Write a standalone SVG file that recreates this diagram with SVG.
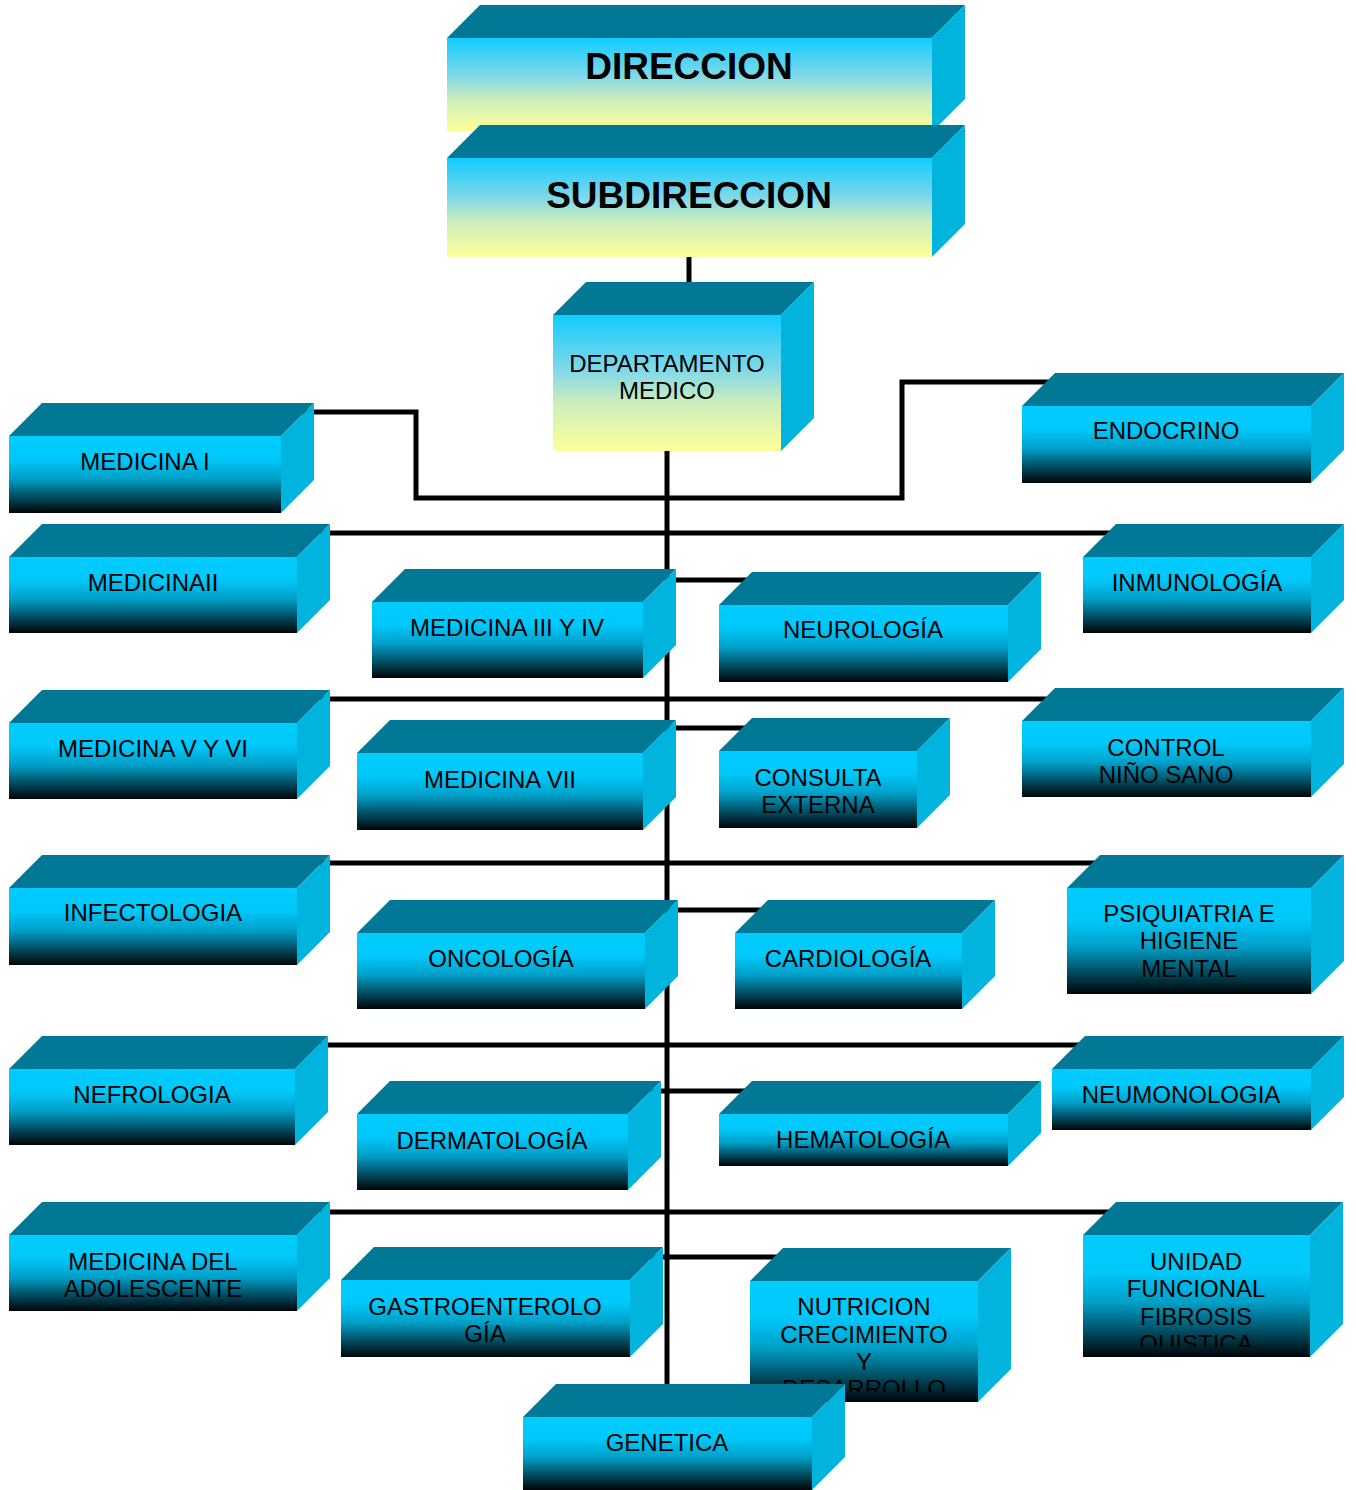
<svg xmlns="http://www.w3.org/2000/svg" width="1356" height="1490" viewBox="0 0 1356 1490">
<defs>
<linearGradient id="gBlue" x1="0" y1="0" x2="0" y2="1">
<stop offset="0" stop-color="#00ccff"/>
<stop offset="0.3" stop-color="#00c8fa"/>
<stop offset="0.55" stop-color="#00a0c8"/>
<stop offset="0.8" stop-color="#004a5e"/>
<stop offset="1" stop-color="#000507"/>
</linearGradient>
<linearGradient id="gYel" x1="0" y1="0" x2="0" y2="1">
<stop offset="0" stop-color="#10ccff"/>
<stop offset="0.4" stop-color="#80d8e8"/>
<stop offset="0.65" stop-color="#cdeebc"/>
<stop offset="1" stop-color="#ffff99"/>
</linearGradient>
<clipPath id="clipUnidad"><rect x="1083" y="1235" width="227" height="112"/></clipPath>
<clipPath id="clipNutri"><rect x="750" y="1281" width="228" height="111"/></clipPath>
</defs>
<style>
.top{fill:#007896}
.side{fill:#00b4de}
.fb{fill:url(#gBlue)}
.fy{fill:url(#gYel)}
.conn{fill:none;stroke:#000;stroke-width:5;stroke-linejoin:miter}
text{font-family:"Liberation Sans",Arial,sans-serif;font-size:24px;fill:#000;text-anchor:middle}
.big{font-size:37px;font-weight:bold}
</style>
<rect width="1356" height="1490" fill="#fff"/>
<g id="connectors">
<path class="conn" d="M689 250V292"/>
<path class="conn" d="M667 445V1392"/>
<path class="conn" d="M300 412H416V498H902V382H1060"/>
<path class="conn" d="M320 533H1120"/>
<path class="conn" d="M667 580H760"/>
<path class="conn" d="M320 699H1060"/>
<path class="conn" d="M667 728H760"/>
<path class="conn" d="M320 863H1110"/>
<path class="conn" d="M667 910H775"/>
<path class="conn" d="M320 1045H1090"/>
<path class="conn" d="M650 1091H760"/>
<path class="conn" d="M320 1212H1120"/>
<path class="conn" d="M650 1257H790"/>
</g>
<g id="direccion">
<polygon class="top" points="447,38 480,5 965,5 932,38"/>
<polygon class="side" points="932,38 965,5 965,99 932,132"/>
<rect class="fy" x="447" y="38" width="485" height="94"/>
<text class="big" x="689" y="79">DIRECCION</text>
</g>
<g id="subdireccion">
<polygon class="top" points="447,158 480,125 965,125 932,158"/>
<polygon class="side" points="932,158 965,125 965,224 932,257"/>
<rect class="fy" x="447" y="158" width="485" height="99"/>
<text class="big" x="689" y="208">SUBDIRECCION</text>
</g>
<g id="departamento">
<polygon class="top" points="553,315 586,282 814,282 781,315"/>
<polygon class="side" points="781,315 814,282 814,418 781,451"/>
<rect class="fy" x="553" y="315" width="228" height="136"/>
<text x="667" y="372">DEPARTAMENTO</text>
<text x="667" y="399">MEDICO</text>
</g>
<g id="medicina1">
<polygon class="top" points="9,436 42,403 314,403 281,436"/>
<polygon class="side" points="281,436 314,403 314,480 281,513"/>
<rect class="fb" x="9" y="436" width="272" height="77"/>
<text x="145" y="470">MEDICINA I</text>
</g>
<g id="medicina2">
<polygon class="top" points="9,557 42,524 330,524 297,557"/>
<polygon class="side" points="297,557 330,524 330,600 297,633"/>
<rect class="fb" x="9" y="557" width="288" height="76"/>
<text x="153" y="591">MEDICINAII</text>
</g>
<g id="medicina3y4">
<polygon class="top" points="372,602 405,569 676,569 643,602"/>
<polygon class="side" points="643,602 676,569 676,645 643,678"/>
<rect class="fb" x="372" y="602" width="271" height="76"/>
<text x="507" y="636">MEDICINA III Y IV</text>
</g>
<g id="neurologia">
<polygon class="top" points="719,605 752,572 1041,572 1008,605"/>
<polygon class="side" points="1008,605 1041,572 1041,649 1008,682"/>
<rect class="fb" x="719" y="605" width="289" height="77"/>
<text x="863" y="638">NEUROLOGÍA</text>
</g>
<g id="endocrino">
<polygon class="top" points="1022,406 1055,373 1344,373 1311,406"/>
<polygon class="side" points="1311,406 1344,373 1344,450 1311,483"/>
<rect class="fb" x="1022" y="406" width="289" height="77"/>
<text x="1166" y="439">ENDOCRINO</text>
</g>
<g id="inmunologia">
<polygon class="top" points="1083,557 1116,524 1344,524 1311,557"/>
<polygon class="side" points="1311,557 1344,524 1344,600 1311,633"/>
<rect class="fb" x="1083" y="557" width="228" height="76"/>
<text x="1197" y="591">INMUNOLOGÍA</text>
</g>
<g id="medicina5y6">
<polygon class="top" points="9,723 42,690 330,690 297,723"/>
<polygon class="side" points="297,723 330,690 330,766 297,799"/>
<rect class="fb" x="9" y="723" width="288" height="76"/>
<text x="153" y="757">MEDICINA V Y VI</text>
</g>
<g id="medicina7">
<polygon class="top" points="357,753 390,720 676,720 643,753"/>
<polygon class="side" points="643,753 676,720 676,797 643,830"/>
<rect class="fb" x="357" y="753" width="286" height="77"/>
<text x="500" y="788">MEDICINA VII</text>
</g>
<g id="consulta">
<polygon class="top" points="719,751 752,718 950,718 917,751"/>
<polygon class="side" points="917,751 950,718 950,795 917,828"/>
<rect class="fb" x="719" y="751" width="198" height="77"/>
<text x="818" y="786">CONSULTA</text>
<text x="818" y="813">EXTERNA</text>
</g>
<g id="control">
<polygon class="top" points="1022,721 1055,688 1344,688 1311,721"/>
<polygon class="side" points="1311,721 1344,688 1344,764 1311,797"/>
<rect class="fb" x="1022" y="721" width="289" height="76"/>
<text x="1166" y="756">CONTROL</text>
<text x="1166" y="783">NIÑO SANO</text>
</g>
<g id="infectologia">
<polygon class="top" points="9,888 42,855 330,855 297,888"/>
<polygon class="side" points="297,888 330,855 330,932 297,965"/>
<rect class="fb" x="9" y="888" width="288" height="77"/>
<text x="153" y="921">INFECTOLOGIA</text>
</g>
<g id="oncologia">
<polygon class="top" points="357,933 390,900 678,900 645,933"/>
<polygon class="side" points="645,933 678,900 678,976 645,1009"/>
<rect class="fb" x="357" y="933" width="288" height="76"/>
<text x="501" y="967">ONCOLOGÍA</text>
</g>
<g id="cardiologia">
<polygon class="top" points="735,933 768,900 995,900 962,933"/>
<polygon class="side" points="962,933 995,900 995,976 962,1009"/>
<rect class="fb" x="735" y="933" width="227" height="76"/>
<text x="848" y="967">CARDIOLOGÍA</text>
</g>
<g id="psiquiatria">
<polygon class="top" points="1067,888 1100,855 1344,855 1311,888"/>
<polygon class="side" points="1311,888 1344,855 1344,961 1311,994"/>
<rect class="fb" x="1067" y="888" width="244" height="106"/>
<text x="1189" y="922">PSIQUIATRIA E</text>
<text x="1189" y="949">HIGIENE</text>
<text x="1189" y="977">MENTAL</text>
</g>
<g id="nefrologia">
<polygon class="top" points="9,1069 42,1036 328,1036 295,1069"/>
<polygon class="side" points="295,1069 328,1036 328,1112 295,1145"/>
<rect class="fb" x="9" y="1069" width="286" height="76"/>
<text x="152" y="1103">NEFROLOGIA</text>
</g>
<g id="dermatologia">
<polygon class="top" points="357,1114 390,1081 661,1081 628,1114"/>
<polygon class="side" points="628,1114 661,1081 661,1157 628,1190"/>
<rect class="fb" x="357" y="1114" width="271" height="76"/>
<text x="492" y="1149">DERMATOLOGÍA</text>
</g>
<g id="hematologia">
<polygon class="top" points="719,1114 752,1081 1041,1081 1008,1114"/>
<polygon class="side" points="1008,1114 1041,1081 1041,1133 1008,1166"/>
<rect class="fb" x="719" y="1114" width="289" height="52"/>
<text x="863" y="1148">HEMATOLOGÍA</text>
</g>
<g id="neumonologia">
<polygon class="top" points="1052,1069 1085,1036 1344,1036 1311,1069"/>
<polygon class="side" points="1311,1069 1344,1036 1344,1097 1311,1130"/>
<rect class="fb" x="1052" y="1069" width="259" height="61"/>
<text x="1181" y="1103">NEUMONOLOGIA</text>
</g>
<g id="adolescente">
<polygon class="top" points="9,1235 42,1202 330,1202 297,1235"/>
<polygon class="side" points="297,1235 330,1202 330,1278 297,1311"/>
<rect class="fb" x="9" y="1235" width="288" height="76"/>
<text x="153" y="1270">MEDICINA DEL</text>
<text x="153" y="1297">ADOLESCENTE</text>
</g>
<g id="gastroenterologia">
<polygon class="top" points="341,1280 374,1247 663,1247 630,1280"/>
<polygon class="side" points="630,1280 663,1247 663,1324 630,1357"/>
<rect class="fb" x="341" y="1280" width="289" height="77"/>
<text x="485" y="1315">GASTROENTEROLO</text>
<text x="485" y="1342">GÍA</text>
</g>
<g id="nutricion">
<polygon class="top" points="750,1281 783,1248 1011,1248 978,1281"/>
<polygon class="side" points="978,1281 1011,1248 1011,1369 978,1402"/>
<rect class="fb" x="750" y="1281" width="228" height="121"/>
<g clip-path="url(#clipNutri)">
<text x="864" y="1315">NUTRICION</text>
<text x="864" y="1343">CRECIMIENTO</text>
<text x="864" y="1370">Y</text>
<text x="864" y="1397">DESARROLLO</text>
</g>
</g>
<g id="unidad">
<polygon class="top" points="1083,1235 1116,1202 1343,1202 1310,1235"/>
<polygon class="side" points="1310,1235 1343,1202 1343,1324 1310,1357"/>
<rect class="fb" x="1083" y="1235" width="227" height="122"/>
<g clip-path="url(#clipUnidad)">
<text x="1196" y="1270">UNIDAD</text>
<text x="1196" y="1297">FUNCIONAL</text>
<text x="1196" y="1325">FIBROSIS</text>
<text x="1196" y="1352">QUISTICA</text>
</g>
</g>
<g id="genetica">
<polygon class="top" points="523,1417 556,1384 845,1384 812,1417"/>
<polygon class="side" points="812,1417 845,1384 845,1457 812,1490"/>
<rect class="fb" x="523" y="1417" width="289" height="73"/>
<text x="667" y="1451">GENETICA</text>
</g>
</svg>
